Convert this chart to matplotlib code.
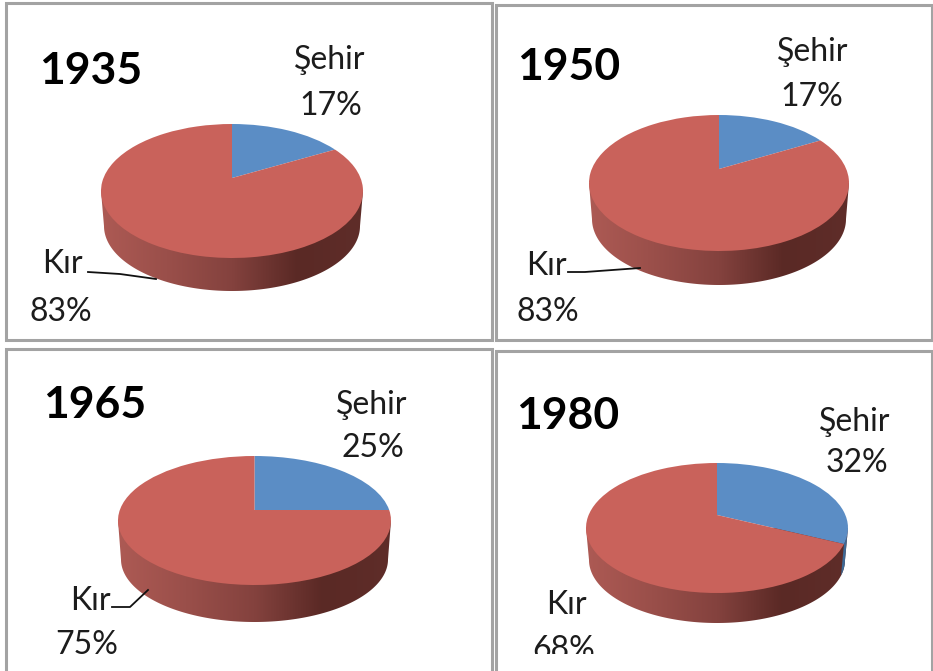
import numpy as np
import matplotlib
matplotlib.use("Agg")
import matplotlib.pyplot as plt
from matplotlib.colors import LinearSegmentedColormap
from matplotlib.patches import Polygon, Rectangle
from matplotlib.transforms import Transform, Bbox

plt.rcParams['font.family'] = ['Lato', 'DejaVu Sans']

W, H = 933, 671
years = ['1935', '1950', '1965', '1980']
sehir = [17, 17, 25, 32]
kir = [83, 83, 75, 68]
category_names = ['Şehir', 'Kır']

# layout in reference pixels: centre x, centre y, rx, ry, apex y, side bottom y
geometry = [
    (232, 191, 131, 67, 178, 291),
    (719, 183, 130, 68, 169, 285),
    (254.5, 520.5, 136.5, 64.5, 510, 622),
    (717, 528, 131, 65, 515, 623),
]
title_pos = [(91, 71), (569, 67), (95, 405), (568, 416)]
sehir_pos = [((330, 60), (331, 106)), ((813, 52), (812, 97)),
             ((372, 405), (373, 448)), ((855, 422), (857, 463))]
kir_pos = [((62, 264), (61, 312)), ((546, 266), (548, 312)),
           ((90, 601), (87, 645)), ((566, 605), (564, 650))]
leaders = [[(88, 272), (120, 274), (156, 279)],
           [(568, 272), (585, 272), (640, 268)],
           [(112, 607), (130, 607), (148, 590)],
           None]

BLUE, RED = '#5b8dc5', '#c9625b'
TEXT = '#1c1c1c'
side_cmap = LinearSegmentedColormap.from_list(
    'side', ['#ad5a54', '#9a4f4a', '#84423e', '#5a2925', '#5f2d29'])


class Perspective(Transform):
    """Maps the unit circle onto itself so that its centre lands at height a."""
    input_dims = output_dims = 2
    is_affine = False
    has_inverse = False

    def __init__(self, a):
        super().__init__()
        self.a = a

    def transform_non_affine(self, values):
        v = np.asarray(values, float)
        d = 1 + self.a * v[:, 1]
        return np.column_stack((v[:, 0] * np.sqrt(1 - self.a ** 2) / d,
                                (v[:, 1] + self.a) / d))


def fx(x):
    return x / W


def fy(y):
    return 1 - y / H


fig = plt.figure(figsize=(W / 100, H / 100), dpi=100, facecolor='white')

# panel frames
for (x0, y0, x1, y1) in [(6, 3, 492, 340), (496, 5, 932, 340),
                         (6, 349, 492, 690), (496, 351, 932, 690)]:
    fig.add_artist(Rectangle((fx(x0), fy(y1)), (x1 - x0) / W, (y1 - y0) / H,
                             transform=fig.transFigure, fill=False,
                             edgecolor='#a3a3a3', linewidth=2.2))

for i, yr in enumerate(years):
    cx, cy, rx, ry, apex, bot = geometry[i]
    ax = fig.add_axes([fx(cx - rx), fy(bot), 2 * rx / W, (bot - cy + ry) / H])
    ax.axis('off')
    depth = (bot - cy - ry) / ry
    s, k = 1 - 3 / rx, 0.97
    oy = -(1 + depth) + k

    # gradient side wall
    t = np.linspace(np.pi, 2 * np.pi, 200)
    outline = np.column_stack((s * np.cos(t), oy + k * np.sin(t)))
    outline = np.vstack(([-1, 0], outline, [1, 0]))
    im = ax.imshow(np.linspace(0, 1, 256)[None, :], cmap=side_cmap, aspect='auto',
                   extent=(-1, 1, -1 - depth, 0.2), zorder=0)
    clip = Polygon(outline, closed=True, transform=ax.transData)
    im.set_clip_path(clip)

    # top face
    wedges, _ = ax.pie([sehir[i], kir[i]], colors=[BLUE, RED], startangle=90,
                       counterclock=False, radius=1, center=(0, 0),
                       wedgeprops={'linewidth': 0})
    a = (cy - apex) / ry
    persp = Perspective(a)
    for w in wedges:
        w.set_transform(persp + ax.transData)
        w.set_zorder(3)
    ax.set_aspect('auto')
    ax.set_xlim(-1, 1)
    ax.set_ylim(-1 - depth, 1)

    # blue part of the wall, when the Şehir slice wraps past the right extreme
    ang = 2 * np.pi * sehir[i] / (sehir[i] + kir[i])
    edge = persp.transform_non_affine(np.array([[np.sin(ang), np.cos(ang)]]))[0]
    if edge[1] < 0:
        t0 = np.arctan2(edge[1], edge[0])
        tt = np.linspace(t0, 0, 30)
        up = np.column_stack((np.cos(tt), np.sin(tt)))
        lo = np.column_stack((s * np.cos(tt), oy + k * np.sin(tt)))
        ax.add_patch(Polygon(np.vstack((up, lo[::-1])), closed=True,
                             facecolor='#3d6894', edgecolor='none', zorder=2))

    # text
    fig.text(fx(title_pos[i][0]), fy(title_pos[i][1]), yr, fontsize=32,
             fontweight='bold', color='black', ha='center', va='center')
    clip_box = Bbox([[0, 671 - 654], [W, H]])
    for name, val, pos in [(category_names[0], sehir[i], sehir_pos[i]),
                           (category_names[1], kir[i], kir_pos[i])]:
        for string, p in [(name, pos[0]), (f'{val}%', pos[1])]:
            tx = fig.text(fx(p[0]), fy(p[1]), string, fontsize=23, color=TEXT,
                          ha='center', va='center')
            tx.set_clip_box(clip_box)
            tx.set_clip_on(True)
    if leaders[i]:
        xs, ys = zip(*leaders[i])
        fig.add_artist(plt.Line2D([fx(v) for v in xs], [fy(v) for v in ys],
                                  transform=fig.transFigure, color='#111111',
                                  linewidth=1.3, zorder=5))

fig.savefig('out.png', dpi=100, facecolor='white')
